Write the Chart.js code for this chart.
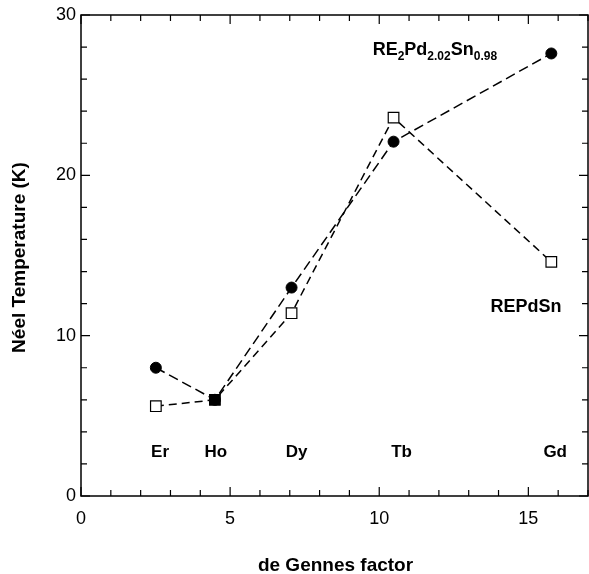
<!DOCTYPE html>
<html>
<head>
<meta charset="utf-8">
<script src="https://cdn.jsdelivr.net/npm/chart.js@4/dist/chart.umd.min.js"></script>
<style>
  html, body { margin: 0; padding: 0; background: #fff; overflow: hidden; }
  #wrap { width: 589px; height: 574px; position: relative; }
  canvas { display: block; }
</style>
</head>
<body>
<div id="wrap"><canvas id="myChart"></canvas></div>
<script>
// values
const elements = ['Er', 'Ho', 'Dy', 'Tb', 'Gd'];
const deGennes = [2.51, 4.49, 7.06, 10.48, 15.77];
const tnRE2Pd2Sn = [8.0, 6.0, 13.0, 22.1, 27.6];   // filled circles
const tnREPdSn = [5.6, 6.0, 11.4, 23.6, 14.6];     // open squares
const labelX = [2.65, 4.52, 7.23, 10.75, 15.9];
const labelY = 2.43;
const xTicks = [0, 5, 10, 15];
const yTicks = [0, 10, 20, 30];

const FONT = 'Liberation Sans, Arial, sans-serif';

function points(xs, ys) {
  return xs.map((x, i) => ({ x: x, y: ys[i] }));
}

// frame, inward ticks, text annotations and axis titles
const decor = {
  id: 'decor',
  afterDraw(chart) {
    const ctx = chart.ctx;
    const a = chart.chartArea;
    const xs = chart.scales.x, ys = chart.scales.y;
    ctx.save();
    ctx.strokeStyle = '#000';
    ctx.lineWidth = 1.5;
    ctx.strokeRect(a.left, a.top, a.right - a.left, a.bottom - a.top);

    ctx.lineWidth = 1.2;
    ctx.beginPath();
    for (let v = 0; v <= 17; v++) {
      const px = xs.getPixelForValue(v);
      const len = v % 5 === 0 ? 9 : 6;
      ctx.moveTo(px, a.bottom); ctx.lineTo(px, a.bottom - len);
      ctx.moveTo(px, a.top); ctx.lineTo(px, a.top + len);
    }
    for (let v = 0; v <= 30; v += 2) {
      const py = ys.getPixelForValue(v);
      const len = v % 10 === 0 ? 9 : 6;
      ctx.moveTo(a.left, py); ctx.lineTo(a.left + len, py);
      ctx.moveTo(a.right, py); ctx.lineTo(a.right - len, py);
    }
    ctx.stroke();

    ctx.fillStyle = '#000';
    ctx.textBaseline = 'alphabetic';

    // element names
    ctx.font = 'bold 17px ' + FONT;
    ctx.textAlign = 'center';
    elements.forEach((el, i) => {
      ctx.fillText(el, xs.getPixelForValue(labelX[i]), ys.getPixelForValue(labelY));
    });

    // series labels
    ctx.textAlign = 'left';
    let x = xs.getPixelForValue(9.78);
    const y = ys.getPixelForValue(27.5);
    const parts = [['RE', false], ['2', true], ['Pd', false], ['2.02', true], ['Sn', false], ['0.98', true]];
    parts.forEach(([t, sub]) => {
      ctx.font = sub ? 'bold 12px ' + FONT : 'bold 18px ' + FONT;
      ctx.fillText(t, x, sub ? y + 5 : y);
      x += ctx.measureText(t).width;
    });
    ctx.font = 'bold 18px ' + FONT;
    ctx.fillText('REPdSn', xs.getPixelForValue(13.73), ys.getPixelForValue(11.48));

    // axis titles
    ctx.font = 'bold 19px ' + FONT;
    ctx.textAlign = 'center';
    ctx.fillText('de Gennes factor', (a.left + a.right) / 2 + 1, 571);
    ctx.translate(25, (a.top + a.bottom) / 2 + 2);
    ctx.rotate(-Math.PI / 2);
    ctx.fillText('Néel Temperature (K)', 0, 0);
    ctx.restore();
  }
};

const ctx = document.getElementById('myChart');

const config = {
  type: 'scatter',
  data: {
    datasets: [
      {
        label: 'REPdSn',
        data: points(deGennes, tnREPdSn),
        showLine: true,
        borderColor: '#000',
        borderWidth: 1.5,
        borderDash: [8, 5],
        pointStyle: 'rect',
        pointRadius: 7.5,
        pointBorderWidth: 1.2,
        pointBorderColor: '#000',
        pointBackgroundColor: ['#fff', '#000', '#fff', '#fff', '#fff']
      },
      {
        label: 'RE2Pd2.02Sn0.98',
        data: points(deGennes, tnRE2Pd2Sn),
        showLine: true,
        borderColor: '#000',
        borderWidth: 1.5,
        borderDash: [10, 5],
        pointStyle: 'circle',
        pointRadius: 5.5,
        pointBorderWidth: 1,
        pointBorderColor: '#000',
        pointBackgroundColor: '#000'
      }
    ]
  },
  options: {
    responsive: true,
    maintainAspectRatio: false,
    animation: false,
    layout: { autoPadding: false, padding: { top: 15, right: 1, left: 0, bottom: 0 } },
    plugins: {
      legend: { display: false },
      tooltip: { enabled: false }
    },
    scales: {
      x: {
        type: 'linear',
        min: 0,
        max: 17,
        grid: { display: false, drawTicks: false, tickLength: 0 },
        border: { display: false },
        afterFit: (s) => { s.height = 78; s.paddingLeft = 0; s.paddingRight = 0; },
        afterBuildTicks: (s) => { s.ticks = xTicks.map(v => ({ value: v })); },
        ticks: {
          padding: 12,
          color: '#000',
          maxRotation: 0,
          font: { family: FONT, size: 18 }
        }
      },
      y: {
        type: 'linear',
        min: 0,
        max: 30,
        grid: { display: false, drawTicks: false, tickLength: 0 },
        border: { display: false },
        afterFit: (s) => { s.width = 81; s.paddingTop = 0; s.paddingBottom = 0; },
        afterBuildTicks: (s) => { s.ticks = yTicks.map(v => ({ value: v })); },
        ticks: {
          padding: 5,
          color: '#000',
          font: { family: FONT, size: 18 }
        }
      }
    }
  },
  plugins: [decor]
};

let myChart = new Chart(ctx, config);
</script>
</body>
</html>
